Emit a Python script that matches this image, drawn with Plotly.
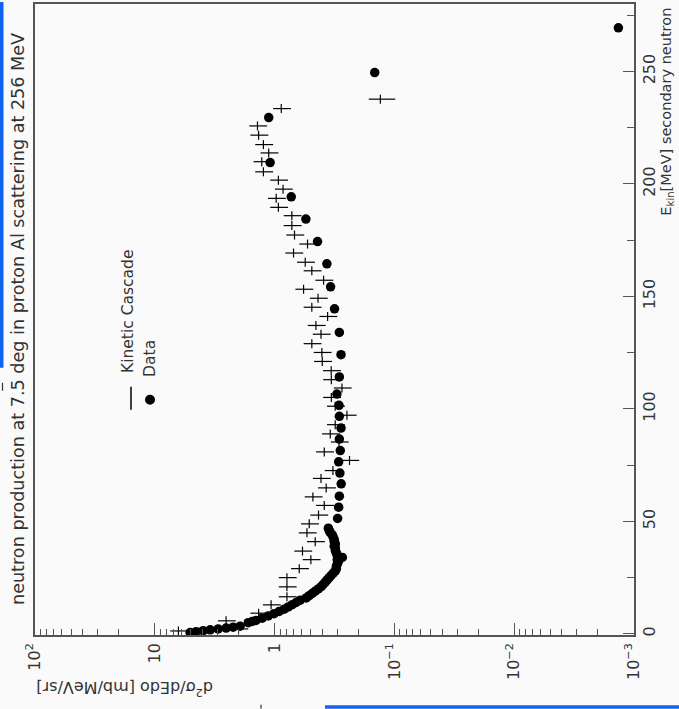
import plotly.graph_objects as go

# ---------------- data ----------------
data_energy = [0.6, 1.0, 1.4, 1.8, 2.2, 2.6, 3.0, 3.4,
               5.0, 5.5, 6.0, 7.0, 8.0, 9.0, 10.0, 11.0, 12.0, 13.0, 14.0, 15.0, 16.0,
               17.0, 18.0, 19.0, 20.0, 21.0, 22.0, 23.0, 24.0, 25.0, 26.0, 27.0, 28.0,
               29.0, 30.0, 31.0, 32.0, 33.0, 34.0, 35.0, 36.0, 37.0, 38.0, 39.0, 40.0,
               41.0, 42.0, 43.0, 44.0, 45.0, 46.0, 47.0,
               51.3, 56.3, 61.2, 66.7, 71.5, 76.5, 81.5, 86.6, 91.5, 96.7, 101.6, 106.6,
               114.2, 124.1, 134.0, 144.5, 154.3, 164.5, 174.4, 184.4, 194.3, 209.5,
               229.5, 249.5, 269.4]
data_xsec = [5.07, 4.52, 3.95, 3.45, 2.96, 2.54, 2.22, 1.94,
             1.66, 1.54, 1.43, 1.27, 1.13, 1.01, 0.916, 0.832, 0.769, 0.712, 0.660, 0.611, 0.545,
             0.514, 0.485, 0.458, 0.432, 0.408, 0.393, 0.378, 0.364, 0.350, 0.337, 0.324, 0.311,
             0.305, 0.305, 0.300, 0.294, 0.300, 0.272, 0.300, 0.305, 0.311, 0.311, 0.318, 0.311,
             0.318, 0.318, 0.324, 0.330, 0.343, 0.350, 0.356,
             0.298, 0.292, 0.288, 0.278, 0.285, 0.292, 0.283, 0.288, 0.279, 0.288, 0.290, 0.302,
             0.288, 0.279, 0.288, 0.316, 0.341, 0.366, 0.438, 0.548, 0.726, 1.09,
             1.12, 0.146, 0.00135]

cascade_energy = [1.3, 2.2, 5.8, 9.2, 12.9, 16.5, 20.9, 25.0, 29.0, 33.0, 36.8, 41.0,
                  44.9, 48.9, 52.8, 57.1, 60.9, 64.9, 69.1, 72.6, 77.1, 80.9, 85.3, 88.9,
                  93.0, 97.2, 101.2, 105.1, 109.3, 113.0, 117.0, 121.1, 125.1, 129.0, 133.2,
                  137.1, 141.1, 145.2, 149.2, 153.2, 157.2, 161.4, 165.2, 169.3, 173.3,
                  177.3, 181.5, 185.9, 189.6, 193.6, 197.7, 201.7, 205.4, 209.9, 213.8,
                  217.5, 221.7, 225.8, 233.5, 237.7]
cascade_xsec = [6.35, 2.0, 2.54, 1.36, 1.07, 0.789, 0.789, 0.789, 0.623, 0.498, 0.585, 0.458,
                0.537, 0.514, 0.430, 0.385, 0.479, 0.371, 0.410, 0.326, 0.237, 0.385, 0.290, 0.343,
                0.312, 0.249, 0.312, 0.336, 0.274, 0.336, 0.337, 0.400, 0.403, 0.489, 0.410,
                0.452, 0.361, 0.489, 0.434, 0.573, 0.390, 0.489, 0.555, 0.695, 0.531,
                0.682, 0.718, 0.718, 0.930, 0.970, 0.850, 0.930, 1.24, 1.28, 1.12,
                1.24, 1.36, 1.39, 0.880, 0.131]
cascade_rel_err = [0.17] * 59 + [0.25]
cascade_bin_half = [2.0] * 60

xsec_tick_vals = [100, 10, 1, 0.1, 0.01, 0.001]
xsec_tick_text = ["10<sup>2</sup>", "10", "1", "10<sup>−1</sup>", "10<sup>−2</sup>", "10<sup>−3</sup>"]
xsec_minor_vals = [m * d for d in [0.001, 0.01, 0.1, 1, 10] for m in range(2, 10)]
energy_tick_vals = [0, 50, 100, 150, 200, 250]
energy_tick_text = ["0", "50", "100", "150", "200", "250"]

title_text = "neutron production at 7.5 deg in proton Al scattering at 256 MeV"
x_title_text = "d<sup>2</sup>σ/dEdo [mb/MeV/sr]"
y_title_text = "E<sub>kin</sub>[MeV] secondary neutron"
legend_names = ["Kinetic Cascade", "Data"]

# ---------------- figure ----------------
W, H = 679, 709
L, R, T, B = 35, 45, 2, 74
PW, PH = W - L - R, H - T - B


def px(xp):
    return (xp - L) / PW


def py(yp):
    return (H - B - yp) / PH


FONT = "DejaVu Sans"
TXT = "#333333"
AX = "#555555"

fig = go.Figure()

fig.add_trace(go.Scatter(
    x=data_xsec, y=data_energy, mode="markers", name=legend_names[1],
    marker=dict(symbol="circle", size=9.5, color="black", line=dict(width=0)),
    showlegend=False))

fig.add_trace(go.Scatter(
    x=cascade_xsec, y=cascade_energy, mode="markers", name=legend_names[0],
    marker=dict(size=2, color="black", opacity=0),
    error_x=dict(type="data", array=[v * e for v, e in zip(cascade_xsec, cascade_rel_err)],
                 symmetric=True, color="black", thickness=1.2, width=0),
    error_y=dict(type="data", array=cascade_bin_half, symmetric=True,
                 color="black", thickness=1.2, width=0),
    showlegend=False))

fig.update_layout(
    width=W, height=H,
    margin=dict(l=L, r=R, t=T, b=B, pad=0),
    paper_bgcolor="#fafafa", plot_bgcolor="#fafafa",
    font=dict(family=FONT, color=TXT, size=14),
    showlegend=False,
)

fig.update_xaxes(
    type="log", range=[2, -3], autorange=False,
    showgrid=False, zeroline=False,
    showline=True, linecolor=AX, linewidth=1.5, mirror=True,
    ticks="inside", ticklen=12, tickwidth=1.2, tickcolor=AX,
    tickmode="array", tickvals=xsec_tick_vals, ticktext=xsec_tick_text,
    tickangle=-90, tickfont=dict(family=FONT, size=16, color=TXT),
    minor=dict(ticks="inside", ticklen=6, tickwidth=1.2, tickcolor=AX,
               tickmode="array", tickvals=xsec_minor_vals, showgrid=False),
)

fig.update_yaxes(
    range=[-0.5, 280], autorange=False, side="right",
    showgrid=False, zeroline=False,
    showline=True, linecolor=AX, linewidth=1.5, mirror=True,
    ticks="inside", ticklen=11, tickwidth=1.2, tickcolor=AX,
    tickmode="array", tickvals=energy_tick_vals, ticktext=energy_tick_text,
    tickangle=-90, tickfont=dict(family=FONT, size=16, color=TXT),
    minor=dict(ticks="inside", ticklen=7, tickwidth=1.2, tickcolor=AX,
               tickmode="linear", tick0=0, dtick=25, showgrid=False),
)

annotations = [
    dict(text=title_text, x=px(18), y=py(318), xref="paper", yref="paper",
         textangle=-90, showarrow=False, xanchor="center", yanchor="middle",
         font=dict(family=FONT, size=17.6, color=TXT)),
    dict(text=y_title_text, x=px(667), y=py(110), xref="paper", yref="paper",
         textangle=-90, showarrow=False, xanchor="center", yanchor="middle",
         font=dict(family=FONT, size=14.5, color=TXT)),
    dict(text=x_title_text, x=px(125), y=py(688), xref="paper", yref="paper",
         textangle=180, showarrow=False, xanchor="center", yanchor="middle",
         font=dict(family=FONT, size=16, color=TXT)),
    dict(text=legend_names[0], x=px(128), y=py(311), xref="paper", yref="paper",
         textangle=-90, showarrow=False, xanchor="center", yanchor="middle",
         font=dict(family=FONT, size=15.5, color=TXT)),
    dict(text=legend_names[1], x=px(150), y=py(358), xref="paper", yref="paper",
         textangle=-90, showarrow=False, xanchor="center", yanchor="middle",
         font=dict(family=FONT, size=15.5, color=TXT)),
]
fig.update_layout(annotations=annotations)

shapes = [
    # legend symbols
    dict(type="line", xref="paper", yref="paper", x0=px(131), x1=px(131),
         y0=py(386), y1=py(409), line=dict(color="black", width=1.5)),
    dict(type="circle", xref="paper", yref="paper", x0=px(145), x1=px(155),
         y0=py(394), y1=py(404), fillcolor="black", line=dict(color="black", width=0)),
    # screenshot edge artefacts
    dict(type="rect", xref="paper", yref="paper", x0=px(0), x1=px(3.5),
         y0=py(0), y1=py(367), fillcolor="#1064f0", line=dict(width=0), layer="above"),
    dict(type="rect", xref="paper", yref="paper", x0=px(325), x1=px(679),
         y0=py(705.5), y1=py(709), fillcolor="#1064f0", line=dict(width=0), layer="above"),
    dict(type="line", xref="paper", yref="paper", x0=px(261), x1=px(261),
         y0=py(705), y1=py(709), line=dict(color="#333333", width=1.2)),
    dict(type="line", xref="paper", yref="paper", x0=px(2.5), x1=px(2.5),
         y0=py(382), y1=py(390), line=dict(color="#333333", width=1.2)),
]
fig.update_layout(shapes=shapes)

fig.write_html("out.html")
